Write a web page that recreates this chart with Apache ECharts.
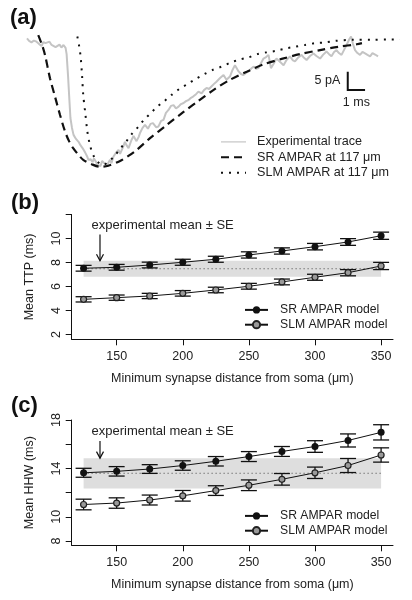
<!DOCTYPE html>
<html><head><meta charset="utf-8">
<script src="https://cdn.jsdelivr.net/npm/echarts@6/dist/echarts.min.js"></script>
<style>html,body{margin:0;padding:0;background:#fff}#c{width:412px;height:600px}</style>
</head><body><div id="c"></div>
<script>
// ---------- Panel (a): current traces (time in ms, current in pA) ----------
const expT = [0.00,0.12,0.26,0.40,0.55,0.69,0.84,0.95,1.07,1.18,1.30,1.42,1.53,1.65,1.76,1.88,1.99,2.11,2.23,2.29,2.37,2.45,2.51,2.60,2.69,2.83,2.98,3.09,3.21,3.35,3.47,3.55,3.67,3.79,3.87,3.99,4.08,4.16,4.25,4.34,4.42,4.51,4.60,4.71,4.80,4.88,5.00,5.09,5.17,5.29,5.38,5.46,5.58,5.66,5.75,5.87,5.95,6.04,6.16,6.24,6.33,6.45,6.53,6.68,6.82,6.99,7.14,7.28,7.46,7.60,7.75,7.89,8.03,8.18,8.32,8.47,8.61,8.76,8.90,9.05,9.19,9.34,9.48,9.62,9.77,9.91,10.09,10.23,10.38,10.52,10.66,10.81,10.95,11.16,11.36,11.53,11.73,11.88,12.02,12.23,12.37,12.51,12.66,12.80,12.95,13.09,13.24,13.38,13.53,13.67,13.82,13.96,14.10,14.25,14.42,14.62,14.83,15.00,15.20,15.35,15.49,15.66,15.87,16.01,16.16,16.36,16.56,16.73,16.94,17.11,17.31,17.46,17.60,17.75,17.89,18.03,18.18,18.32,18.47,18.61,18.73,18.84,18.96,19.10,19.25,19.39,19.54,19.68,19.83,19.97,20.12,20.29];
const expI = [-0.1,-0.8,-1.2,-0.7,-1.0,-1.6,-2.2,-1.1,-1.4,-1.9,-1.0,-1.9,-1.4,-2.5,-2.7,-1.8,-2.6,-1.9,-2.7,-4.4,-10.1,-16.9,-21.8,-24.5,-26.4,-27.5,-28.3,-29.2,-30.0,-31.1,-32.2,-33.2,-33.0,-33.8,-32.8,-33.8,-34.6,-34.3,-34.9,-33.5,-33.2,-34.3,-34.9,-34.6,-33.2,-34.1,-32.3,-32.7,-31.1,-30.5,-31.6,-31.9,-29.4,-28.3,-29.2,-30.0,-29.6,-27.8,-26.7,-27.4,-28.1,-27.0,-25.9,-24.5,-23.7,-24.7,-23.4,-23.2,-24.3,-24.1,-22.6,-22.3,-20.4,-19.6,-18.5,-18.3,-19.2,-18.7,-18.0,-17.7,-17.2,-16.9,-16.3,-15.9,-15.3,-14.6,-15.1,-14.2,-13.6,-13.9,-13.2,-12.5,-11.9,-10.9,-10.1,-11.4,-10.5,-8.7,-7.4,-9.1,-9.8,-10.1,-9.5,-9.1,-8.4,-7.8,-8.4,-8.2,-6.8,-5.6,-5.2,-4.6,-8.2,-7.1,-5.6,-6.5,-7.4,-6.0,-5.0,-6.0,-6.4,-5.4,-4.6,-5.4,-6.0,-4.9,-4.2,-4.9,-5.6,-4.6,-3.7,-4.4,-5.0,-3.8,-3.3,-4.1,-4.6,-3.3,-1.9,-0.5,0.4,-1.6,-3.3,-4.1,-4.6,-3.8,-4.2,-4.6,-5.0,-4.1,-4.5,-5.0];
const srT = [0.65,0.87,1.04,1.33,1.62,1.91,2.20,2.43,2.68,2.95,3.25,3.74,4.22,4.70,5.38,5.84,6.34,7.11,8.08,9.03,9.81,10.77,11.73,12.70,13.66,14.72,15.78,16.94,17.99,19.06,19.36];
const srI = [0.8,-1.9,-4.6,-11.0,-16.0,-21.0,-25.5,-28.1,-30.1,-31.7,-33.2,-34.4,-35.1,-34.8,-33.5,-32.2,-30.5,-27.3,-23.7,-20.2,-17.5,-14.2,-11.4,-9.2,-7.2,-5.7,-4.4,-3.3,-2.4,-1.7,-1.4];
const slmT = [2.91,3.02,3.10,3.18,3.25,3.37,3.49,3.64,3.87,4.22,4.45,4.64,5.03,5.38,5.72,6.05,6.43,6.76,7.15,7.53,7.94,8.36,8.80,9.29,9.77,10.23,10.73,11.25,11.77,12.27,12.79,13.31,13.86,14.39,15.01,15.49,16.07,16.65,17.23,17.80,18.86,19.92,20.88,21.56];
const slmI = [0.4,-2.4,-5.1,-10.1,-15.5,-20.5,-25.5,-29.2,-32.3,-34.3,-34.5,-33.9,-32.3,-30.2,-28.3,-26.2,-24.2,-22.3,-20.5,-18.7,-17.2,-15.5,-13.9,-12.5,-11.1,-9.9,-8.7,-7.8,-6.7,-5.9,-5.3,-4.4,-3.9,-3.5,-2.8,-2.4,-1.9,-1.4,-1.2,-0.8,-0.5,-0.5,-0.4,-0.4];
const scaleBarT = [18.54, 18.54, 19.54];   // 1 ms
const scaleBarI = [-9.2, -14.2, -14.2];    // 5 pA

// ---------- Panels (b) and (c) ----------
const distances = [125,150,175,200,225,250,275,300,325,350];
const xTicks = [150,200,250,300,350];
const ttpSR = [7.52,7.60,7.79,8.02,8.27,8.63,8.96,9.32,9.71,10.23];
const ttpSRse = [0.24,0.24,0.24,0.25,0.25,0.26,0.26,0.27,0.28,0.30];
const ttpSLM = [4.93,5.07,5.21,5.43,5.71,6.02,6.38,6.77,7.15,7.71];
const ttpSLMse = [0.22,0.22,0.22,0.23,0.23,0.24,0.24,0.25,0.26,0.30];
const ttpExpMean = 7.48, ttpExpSE = 0.67;
const ttpTicks = [2,4,6,8,10,12], ttpLabels = [2,4,6,8,10];
const hhwSR = [13.64,13.76,13.95,14.24,14.59,14.98,15.40,15.81,16.31,16.98];
const hhwSRse = [0.37,0.39,0.36,0.39,0.39,0.41,0.41,0.48,0.54,0.63];
const hhwSLM = [11.02,11.14,11.39,11.74,12.17,12.61,13.10,13.64,14.24,15.11];
const hhwSLMse = [0.44,0.43,0.41,0.44,0.40,0.44,0.48,0.47,0.58,0.59];
const hhwExpMean = 13.6, hhwExpSE = 1.25;
const hhwTicks = [8,10,12,14,16,18], hhwLabels = [8,10,14,18];
const arrowX = 137.4;
const ttpArrow = [10.33, 8.15], hhwArrow = [16.26, 14.85];

const FONT = 'Liberation Sans';
const TXT = '#222';
const zip = (a, b) => a.map((v, i) => [v, b[i]]);
const errData = (m, s) => distances.map((d, i) => [d, m[i] - s[i], m[i] + s[i]]);

function errRender(params, api) {
  const x = api.value(0);
  const lo = api.coord([x, api.value(1)]), hi = api.coord([x, api.value(2)]);
  const hw = 8, st = {stroke: '#111', lineWidth: 1.3};
  return {type: 'group', children: [
    {type: 'line', shape: {x1: lo[0], y1: lo[1], x2: hi[0], y2: hi[1]}, style: st},
    {type: 'line', shape: {x1: lo[0]-hw, y1: lo[1], x2: lo[0]+hw, y2: lo[1]}, style: st},
    {type: 'line', shape: {x1: hi[0]-hw, y1: hi[1], x2: hi[0]+hw, y2: hi[1]}, style: st}
  ]};
}
function arrowRender(params, api) {
  const x = api.value(0);
  const a = api.coord([x, api.value(1)]), b = api.coord([x, api.value(2)]);
  const st = {stroke: '#111', lineWidth: 1.2, fill: null};
  return {type: 'group', children: [
    {type: 'line', shape: {x1: a[0], y1: a[1], x2: b[0], y2: b[1]}, style: st},
    {type: 'polyline', shape: {points: [[b[0]-3.5, b[1]-6.5], [b[0], b[1]], [b[0]+3.5, b[1]-6.5]]}, style: st},
    {type: 'text', x: a[0]-8.5, y: a[1]-9.5, style: {text: 'experimental mean \u00b1 SE', font: '13px ' + FONT, fill: TXT, textAlign: 'left', textVerticalAlign: 'middle'}}
  ]};
}
function scaleBarRender(params, api) {
  if (params.dataIndex !== 0) return;
  const p = scaleBarT.map((t, i) => api.coord([t, scaleBarI[i]]));
  const st = {stroke: '#111', lineWidth: 2, fill: null};
  return {type: 'group', children: [
    {type: 'polyline', shape: {points: p}, style: st},
    {type: 'text', x: p[0][0]-7.5, y: (p[0][1]+p[1][1])/2, style: {text: '5 pA', font: '12.5px ' + FONT, fill: TXT, textAlign: 'right', textVerticalAlign: 'middle'}},
    {type: 'text', x: (p[1][0]+p[2][0])/2, y: p[1][1]+12, style: {text: '1 ms', font: '12.5px ' + FONT, fill: TXT, textAlign: 'center', textVerticalAlign: 'middle'}}
  ]};
}

function xAxisFor(gi) {
  return {gridIndex: gi, type: 'value', min: 116, max: 359,
    name: 'Minimum synapse distance from soma (\u03bcm)', nameLocation: 'middle', nameGap: 33,
    nameTextStyle: {fontSize: 12.5, color: TXT, fontFamily: FONT},
    axisLine: {show: true, onZero: false, lineStyle: {color: '#111', width: 1}},
    axisTick: {show: true, length: 6, customValues: xTicks, lineStyle: {color: '#111'}},
    axisLabel: {customValues: xTicks, margin: 11, fontSize: 12.5, color: TXT, fontFamily: FONT},
    splitLine: {show: false}};
}
function yAxisFor(gi, min, max, ticks, labels, name) {
  return {gridIndex: gi, type: 'value', min: min, max: max,
    name: name, nameLocation: 'middle', nameGap: 36,
    nameTextStyle: {fontSize: 12.5, color: TXT, fontFamily: FONT},
    axisLine: {show: true, onZero: false, lineStyle: {color: '#111', width: 1}},
    axisTick: {show: true, length: 6, customValues: ticks, lineStyle: {color: '#111'}},
    axisLabel: {customValues: labels, rotate: 90, margin: 9, fontSize: 12.5, color: TXT, fontFamily: FONT},
    splitLine: {show: false}};
}
function panelSeries(gi, sr, srse, slm, slmse, mean, se, arrow) {
  return [
    {type: 'line', xAxisIndex: gi, yAxisIndex: gi, data: [], z: 0, silent: true,
     markArea: {silent: true, itemStyle: {color: '#dedede'}, data: [[{coord: [distances[0], mean - se]}, {coord: [distances[distances.length-1], mean + se]}]]}},
    {type: 'line', xAxisIndex: gi, yAxisIndex: gi, z: 1, silent: true, symbol: 'none',
     data: [[distances[0], mean], [distances[distances.length-1], mean]],
     lineStyle: {color: '#444', width: 1, type: [1, 3]}},
    {type: 'custom', xAxisIndex: gi, yAxisIndex: gi, z: 2, silent: true, renderItem: errRender, data: errData(sr, srse)},
    {type: 'custom', xAxisIndex: gi, yAxisIndex: gi, z: 2, silent: true, renderItem: errRender, data: errData(slm, slmse)},
    {name: 'SR AMPAR model', type: 'line', xAxisIndex: gi, yAxisIndex: gi, z: 3, data: zip(distances, sr),
     symbol: 'circle', symbolSize: 7, lineStyle: {color: '#111', width: 1}, itemStyle: {color: '#111'}},
    {name: 'SLM AMPAR model', type: 'line', xAxisIndex: gi, yAxisIndex: gi, z: 3, data: zip(distances, slm),
     symbol: 'circle', symbolSize: 6, lineStyle: {color: '#111', width: 1}, itemStyle: {color: '#9a9a9a', borderColor: '#222', borderWidth: 1.2}},
    {type: 'custom', xAxisIndex: gi, yAxisIndex: gi, z: 4, silent: true, renderItem: arrowRender, data: [[arrowX, arrow[0], arrow[1]]]}
  ];
}
const hideLegendSym = {color: 'rgba(0,0,0,0)', borderWidth: 0, opacity: 0};
const option = {
  animation: false,
  textStyle: {fontFamily: FONT},
  grid: [
    {left: 27, right: 12, top: 30.66, height: 139.46},
    {left: 71.7, right: 19, top: 214.5, height: 124.8},
    {left: 71.7, right: 19, top: 420, height: 125.3}
  ],
  xAxis: [
    {gridIndex: 0, type: 'value', min: 0, max: 21.56, show: false},
    xAxisFor(1), xAxisFor(2)
  ],
  yAxis: [
    {gridIndex: 0, type: 'value', min: -36, max: 2, show: false},
    yAxisFor(1, 1.6, 12, ttpTicks, ttpLabels, 'Mean TTP (ms)'),
    yAxisFor(2, 7.65, 18, hhwTicks, hhwLabels, 'Mean HHW (ms)')
  ],
  legend: [
    {orient: 'vertical', left: 220, top: 135.4, padding: 0, itemWidth: 25, itemHeight: 12.6, itemGap: 2.4, selectedMode: false,
     textStyle: {fontSize: 12.6, color: TXT, fontFamily: FONT, padding: [0, 0, 0, 6]},
     data: [{name: 'Experimental trace', itemStyle: hideLegendSym, lineStyle: {width: 1.2}}, {name: 'SR AMPAR at 117 \u03bcm', itemStyle: hideLegendSym}, {name: 'SLM AMPAR at 117 \u03bcm', itemStyle: hideLegendSym}]},
    {orient: 'vertical', left: 244, top: 303.9, padding: 0, itemWidth: 23, itemHeight: 9, itemGap: 2.8, selectedMode: false,
     textStyle: {fontSize: 12.2, color: TXT, fontFamily: FONT, padding: [0, 0, 0, 7]},
     data: ['SR AMPAR model', 'SLM AMPAR model']},
    {orient: 'vertical', left: 244, top: 509.9, padding: 0, itemWidth: 23, itemHeight: 9, itemGap: 2.8, selectedMode: false,
     textStyle: {fontSize: 12.2, color: TXT, fontFamily: FONT, padding: [0, 0, 0, 7]},
     data: ['SR AMPAR model', 'SLM AMPAR model']}
  ],
  graphic: [
    {type: 'text', left: 10, top: 7, style: {text: '(a)', font: 'bold 22px ' + FONT, fill: '#111'}},
    {type: 'text', left: 11, top: 192, style: {text: '(b)', font: 'bold 22px ' + FONT, fill: '#111'}},
    {type: 'text', left: 11, top: 395, style: {text: '(c)', font: 'bold 22px ' + FONT, fill: '#111'}}
  ],
  series: [
    {name: 'Experimental trace', type: 'line', xAxisIndex: 0, yAxisIndex: 0, symbol: 'none', data: zip(expT, expI),
     lineStyle: {color: '#c4c4c4', width: 2}, itemStyle: {color: '#c4c4c4'}, z: 1},
    {name: 'SR AMPAR at 117 \u03bcm', type: 'line', xAxisIndex: 0, yAxisIndex: 0, symbol: 'none', smooth: 0.3, data: zip(srT, srI),
     lineStyle: {color: '#111', width: 2.2, type: [8, 5]}, itemStyle: {color: '#111'}, z: 2},
    {name: 'SLM AMPAR at 117 \u03bcm', type: 'line', xAxisIndex: 0, yAxisIndex: 0, symbol: 'none', smooth: 0.3, data: zip(slmT, slmI),
     lineStyle: {color: '#111', width: 2, type: [2, 6]}, itemStyle: {color: '#111'}, z: 2},
    {type: 'custom', xAxisIndex: 0, yAxisIndex: 0, silent: true, renderItem: scaleBarRender, data: zip(scaleBarT, scaleBarI), z: 3}
  ].concat(panelSeries(1, ttpSR, ttpSRse, ttpSLM, ttpSLMse, ttpExpMean, ttpExpSE, ttpArrow))
   .concat(panelSeries(2, hhwSR, hhwSRse, hhwSLM, hhwSLMse, hhwExpMean, hhwExpSE, hhwArrow))
};
const chart = echarts.init(document.getElementById('c'), null, {renderer: 'canvas'});
chart.setOption(option);
</script></body></html>
